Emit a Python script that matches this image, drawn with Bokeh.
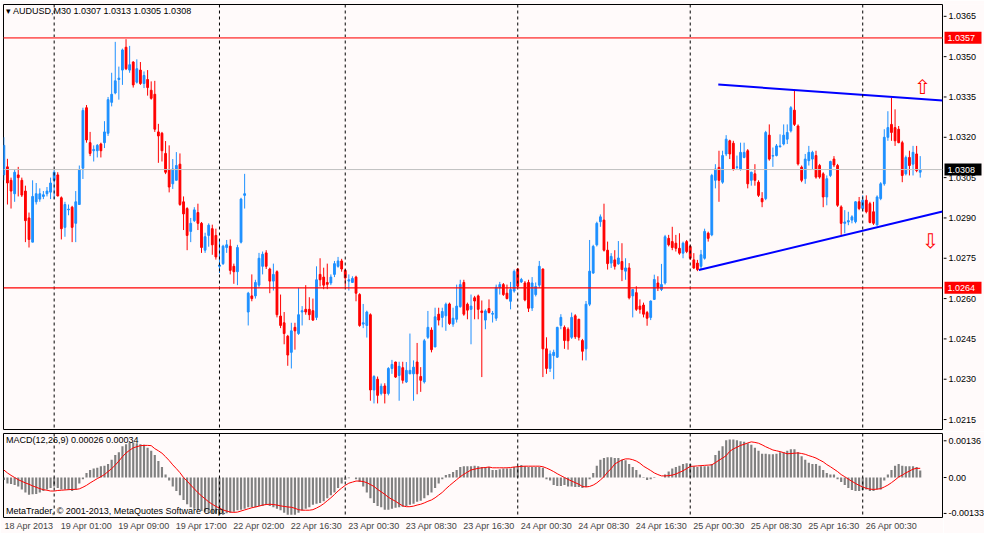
import numpy as np
from bokeh.plotting import figure
from bokeh.layouts import column, row
from bokeh.models import Range1d, FixedTicker, Span, Label
from bokeh.core.properties import value
from bokeh.embed import file_html
from bokeh.resources import INLINE

# ---------------- data (AUDUSD, M30) ----------------
open_ = [
 1.0306, 1.0309, 1.0304, 1.0299, 1.0306, 1.0304, 1.0300, 1.0290, 1.0281, 1.0296,
 1.0297, 1.0298, 1.0299, 1.02996, 1.0304, 1.0306, 1.02975, 1.02865, 1.0293, 1.0294,
 1.0288, 1.0295, 1.03085, 1.0331, 1.0318, 1.0315, 1.0315, 1.03175, 1.0318, 1.03215,
 1.0333, 1.03365, 1.03415, 1.0345, 1.03535, 1.0345, 1.0348, 1.03405, 1.0345, 1.0340,
 1.03415, 1.03375, 1.0336, 1.0322, 1.03215, 1.0314, 1.0308, 1.03027, 1.0304, 1.0310,
 1.0296, 1.02935, 1.0285, 1.0289, 1.0292, 1.0288, 1.0278, 1.02835, 1.0286, 1.02835,
 1.0272, 1.0273, 1.0279, 1.02795, 1.0272, 1.0270, 1.0281, 1.02984, 1.0255, 1.0261,
 1.0261, 1.0265, 1.0272, 1.0277, 1.0271, 1.02665, 1.0270, 1.02535, 1.0251, 1.0246,
 1.0240, 1.02493, 1.0247, 1.0255, 1.0256, 1.0256, 1.02555, 1.0253, 1.0269, 1.0268,
 1.0266, 1.02658, 1.0269, 1.0272, 1.0274, 1.02705, 1.02665, 1.0266, 1.0268, 1.02615,
 1.02505, 1.0250, 1.0254, 1.0226, 1.0230, 1.02247, 1.02275, 1.02247, 1.0234, 1.02364,
 1.02314, 1.02343, 1.0229, 1.0232, 1.0232, 1.02364, 1.0231, 1.0229, 1.02456, 1.02483,
 1.0242, 1.02542, 1.0253, 1.02536, 1.0258, 1.02505, 1.02523, 1.0257, 1.0266, 1.02579,
 1.0256, 1.02603, 1.0261, 1.02554, 1.0252, 1.02563, 1.02542, 1.02527, 1.0264, 1.02652,
 1.0262, 1.0259, 1.02628, 1.0271, 1.02662, 1.02658, 1.0266, 1.02565, 1.02615, 1.0265,
 1.0271, 1.02413, 1.0234, 1.02388, 1.02382, 1.0250, 1.02493, 1.02486, 1.02456, 1.02536,
 1.02523, 1.02444, 1.02413, 1.02579, 1.02695, 1.0280, 1.02886, 1.02892, 1.0278, 1.02732,
 1.02744, 1.02729, 1.02738, 1.02702, 1.02714, 1.0261, 1.02622, 1.02572, 1.02576, 1.02548,
 1.0253, 1.02597, 1.02658, 1.02634, 1.02658, 1.02824, 1.02812, 1.02806, 1.02787, 1.02769,
 1.02812, 1.02794, 1.02744, 1.02732, 1.0272, 1.0275, 1.02843, 1.02837, 1.0304, 1.03088,
 1.03033, 1.03138, 1.03187, 1.03178, 1.03088, 1.03082, 1.03125, 1.0315, 1.0304, 1.03064,
 1.03033, 1.02972, 1.02972, 1.03208, 1.0313, 1.03132, 1.03165, 1.03175, 1.03193, 1.03224,
 1.03301, 1.03242, 1.03089, 1.03046, 1.03113, 1.03119, 1.03132, 1.03095, 1.03064, 1.02978,
 1.03058, 1.03119, 1.03095, 1.02941, 1.0288, 1.02885, 1.02892, 1.02886, 1.0296, 1.02935,
 1.02966, 1.02953, 1.02923, 1.02874, 1.02972, 1.03027, 1.0320, 1.03248, 1.03236, 1.0323,
 1.0318, 1.03064, 1.03125, 1.0310, 1.03138, 1.0307]

high = [
 1.0320, 1.0312, 1.0305, 1.0308, 1.0309, 1.0305, 1.0302, 1.0292, 1.0304, 1.0303,
 1.0301, 1.0300, 1.03015, 1.0305, 1.0308, 1.0307, 1.0298, 1.0296, 1.0295, 1.02945,
 1.0300, 1.03095, 1.0331, 1.0332, 1.0322, 1.0317, 1.03175, 1.0318, 1.0326, 1.0335,
 1.0344, 1.03555, 1.03463, 1.0353, 1.03565, 1.0354, 1.03483, 1.0349, 1.0348, 1.03445,
 1.0345, 1.03408, 1.0341, 1.0325, 1.0322, 1.03186, 1.0317, 1.03119, 1.03145, 1.0314,
 1.0298, 1.0294, 1.0290, 1.0294, 1.02953, 1.02885, 1.02845, 1.0288, 1.02875, 1.0286,
 1.0282, 1.0280, 1.02818, 1.0282, 1.0273, 1.0280, 1.02975, 1.03064, 1.02625, 1.0269,
 1.0267, 1.0277, 1.02775, 1.0278, 1.02715, 1.0273, 1.02705, 1.02615, 1.0255, 1.02465,
 1.0251, 1.0251, 1.0264, 1.02572, 1.0265, 1.02605, 1.0260, 1.0272, 1.0275, 1.02715,
 1.0273, 1.0269, 1.0274, 1.02755, 1.02748, 1.0271, 1.0269, 1.02683, 1.02685, 1.0262,
 1.0258, 1.02555, 1.02545, 1.02315, 1.0231, 1.02284, 1.02285, 1.02345, 1.02372, 1.02365,
 1.02365, 1.02365, 1.02364, 1.0247, 1.0237, 1.02435, 1.02345, 1.0245, 1.02554, 1.02493,
 1.02566, 1.02566, 1.02566, 1.02585, 1.02585, 1.02566, 1.02652, 1.0267, 1.0267, 1.02585,
 1.02615, 1.0261, 1.02615, 1.02593, 1.0256, 1.02597, 1.02554, 1.02652, 1.02662, 1.02658,
 1.02652, 1.02662, 1.02708, 1.02714, 1.02677, 1.02665, 1.0267, 1.0268, 1.0266, 1.0274,
 1.02712, 1.02456, 1.02407, 1.0241, 1.02495, 1.02542, 1.0250, 1.02493, 1.02548, 1.02542,
 1.02525, 1.0245, 1.02591, 1.02818, 1.0280, 1.02886, 1.02913, 1.02953, 1.02812, 1.02769,
 1.0278, 1.02814, 1.02806, 1.0275, 1.02732, 1.02635, 1.02646, 1.02597, 1.02585, 1.02554,
 1.02593, 1.02689, 1.02683, 1.02729, 1.02837, 1.02837, 1.02867, 1.02837, 1.02843, 1.02812,
 1.02818, 1.0280, 1.02769, 1.02744, 1.02781, 1.0286, 1.02849, 1.03064, 1.0310, 1.0315,
 1.0315, 1.03208, 1.03191, 1.03187, 1.03132, 1.0318, 1.0318, 1.03156, 1.03072, 1.0310,
 1.0304, 1.02996, 1.03224, 1.03248, 1.03162, 1.03175, 1.03211, 1.03248, 1.03248, 1.03316,
 1.03377, 1.03248, 1.03095, 1.03138, 1.03168, 1.0315, 1.0315, 1.03101, 1.0307, 1.03058,
 1.03113, 1.0313, 1.03101, 1.02947, 1.02929, 1.02923, 1.0291, 1.02962, 1.02978, 1.02984,
 1.02984, 1.0296, 1.0296, 1.02984, 1.03033, 1.0323, 1.03297, 1.03347, 1.03304, 1.03242,
 1.03187, 1.03132, 1.0315, 1.03168, 1.03168, 1.0313]

low = [
 1.0304, 1.0295, 1.02935, 1.0296, 1.0298, 1.02978, 1.0281, 1.0279, 1.0281, 1.0295,
 1.0296, 1.0297, 1.0298, 1.0297, 1.0297, 1.0298, 1.0282, 1.0283, 1.0291, 1.0281,
 1.0281, 1.0295, 1.03045, 1.0318, 1.0313, 1.0311, 1.03125, 1.03125, 1.0316, 1.03205,
 1.03315, 1.0336, 1.0334, 1.03395, 1.0345, 1.0344, 1.03385, 1.0340, 1.03395, 1.03383,
 1.03355, 1.0334, 1.0322, 1.03105, 1.0311, 1.03063, 1.02995, 1.03008, 1.0304, 1.02945,
 1.02855, 1.0278, 1.0281, 1.02885, 1.02855, 1.0277, 1.0277, 1.02793, 1.02763, 1.02745,
 1.02695, 1.02725, 1.0277, 1.0269, 1.02655, 1.0265, 1.02805, 1.02935, 1.0250, 1.0259,
 1.0260, 1.0264, 1.0269, 1.0271, 1.0262, 1.0263, 1.0253, 1.0249, 1.0243, 1.0235,
 1.0234, 1.0241, 1.02465, 1.0250, 1.0254, 1.0252, 1.02517, 1.0252, 1.02645, 1.02635,
 1.02635, 1.0265, 1.0268, 1.02715, 1.0270, 1.02645, 1.0263, 1.02658, 1.0259, 1.02495,
 1.0249, 1.02455, 1.0222, 1.0221, 1.0221, 1.0224, 1.0221, 1.0224, 1.0232, 1.02305,
 1.0222, 1.02284, 1.02286, 1.0232, 1.0222, 1.02244, 1.02253, 1.02284, 1.0245, 1.0240,
 1.0242, 1.0250, 1.02493, 1.0248, 1.02502, 1.02495, 1.02511, 1.02566, 1.02536, 1.02523,
 1.0243, 1.02523, 1.02523, 1.02308, 1.02486, 1.02545, 1.02511, 1.02517, 1.02615, 1.0261,
 1.02597, 1.0256, 1.02622, 1.0264, 1.02658, 1.0259, 1.0255, 1.02554, 1.02608, 1.0264,
 1.02308, 1.0232, 1.02327, 1.0230, 1.0238, 1.02486, 1.02413, 1.0241, 1.0245, 1.0245,
 1.02444, 1.0237, 1.0237, 1.02572, 1.02692, 1.02794, 1.02867, 1.02775, 1.02708, 1.02714,
 1.02708, 1.02726, 1.02665, 1.0267, 1.02597, 1.0253, 1.02554, 1.02544, 1.0253, 1.02499,
 1.0252, 1.02595, 1.02628, 1.02628, 1.02652, 1.02794, 1.0278, 1.02775, 1.02763, 1.0275,
 1.02769, 1.02744, 1.0271, 1.02702, 1.02708, 1.02745, 1.02812, 1.02832, 1.0301, 1.0296,
 1.03027, 1.0313, 1.03119, 1.03076, 1.03082, 1.03076, 1.03122, 1.0301, 1.0302, 1.0302,
 1.02978, 1.0294, 1.02966, 1.03113, 1.0309, 1.03129, 1.03162, 1.0317, 1.03175, 1.03218,
 1.03242, 1.03095, 1.03033, 1.03027, 1.03095, 1.03082, 1.03046, 1.03046, 1.0294, 1.02947,
 1.03052, 1.03089, 1.02941, 1.02837, 1.02843, 1.02873, 1.0288, 1.0288, 1.02929, 1.02925,
 1.02917, 1.0288, 1.02874, 1.02871, 1.02966, 1.0302, 1.03187, 1.03187, 1.03168, 1.03178,
 1.03033, 1.03058, 1.03058, 1.03058, 1.0307, 1.0305]

close = [
 1.0317, 1.0303, 1.0300, 1.0307, 1.0305, 1.02985, 1.0289, 1.0282, 1.0298, 1.0299,
 1.0299, 1.02986, 1.0300, 1.0303, 1.0307, 1.02982, 1.0286, 1.0295, 1.02933, 1.02865,
 1.0296, 1.0308, 1.0330, 1.0319, 1.0314, 1.03155, 1.0317, 1.0315, 1.0322, 1.0334,
 1.0336, 1.0341, 1.0342, 1.03525, 1.03455, 1.0347, 1.03395, 1.03455, 1.0340, 1.0343,
 1.03385, 1.03345, 1.0323, 1.03205, 1.0315, 1.0307, 1.03015, 1.03082, 1.03095, 1.0295,
 1.02915, 1.02835, 1.0288, 1.0293, 1.0288, 1.0279, 1.0283, 1.02873, 1.0280, 1.02755,
 1.02725, 1.02795, 1.0280, 1.02705, 1.0270, 1.0279, 1.0297, 1.0299, 1.0262, 1.0260,
 1.0266, 1.0275, 1.02765, 1.0272, 1.02665, 1.0269, 1.0254, 1.0250, 1.0247, 1.0239,
 1.0248, 1.0248, 1.0254, 1.02555, 1.0255, 1.0254, 1.0252, 1.0267, 1.0267, 1.0265,
 1.02653, 1.0268, 1.0273, 1.0274, 1.0271, 1.02677, 1.0267, 1.02675, 1.0262, 1.0250,
 1.0251, 1.0255, 1.0226, 1.0231, 1.0224, 1.02274, 1.02247, 1.0234, 1.02355, 1.02308,
 1.02348, 1.02296, 1.02333, 1.02333, 1.02345, 1.0232, 1.02296, 1.02443, 1.02493, 1.0241,
 1.02532, 1.0252, 1.02552, 1.02579, 1.02507, 1.02527, 1.02572, 1.02652, 1.02542, 1.02557,
 1.02572, 1.02591, 1.0256, 1.02548, 1.02554, 1.02548, 1.02545, 1.02642, 1.02652, 1.02615,
 1.0260, 1.02634, 1.02701, 1.02646, 1.02671, 1.02595, 1.02564, 1.02658, 1.02645, 1.0272,
 1.02413, 1.0234, 1.02394, 1.0240, 1.02493, 1.0253, 1.02444, 1.02443, 1.0253, 1.02458,
 1.02456, 1.02404, 1.02579, 1.02702, 1.02794, 1.0288, 1.02904, 1.0278, 1.0273, 1.02757,
 1.0272, 1.02751, 1.02708, 1.02714, 1.02603, 1.02634, 1.0256, 1.0256, 1.02542, 1.02527,
 1.02591, 1.02671, 1.0264, 1.02652, 1.0283, 1.0280, 1.0279, 1.02787, 1.02769, 1.02806,
 1.02775, 1.0275, 1.02714, 1.02708, 1.02763, 1.0285, 1.02824, 1.03058, 1.03082, 1.0304,
 1.03132, 1.03193, 1.03138, 1.03082, 1.0309, 1.03144, 1.03144, 1.03027, 1.0307, 1.0304,
 1.02984, 1.0296, 1.03218, 1.03119, 1.03132, 1.03168, 1.03168, 1.03208, 1.03218, 1.0331,
 1.03248, 1.03101, 1.0304, 1.03119, 1.03144, 1.03144, 1.03052, 1.03052, 1.02978, 1.03046,
 1.0311, 1.03097, 1.02947, 1.0288, 1.02885, 1.0289, 1.02904, 1.0296, 1.02935, 1.02966,
 1.02923, 1.02883, 1.0288, 1.02978, 1.03027, 1.0320, 1.03236, 1.03218, 1.03187, 1.0318,
 1.03058, 1.03125, 1.03095, 1.03144, 1.03076, 1.0308]

# MACD(12,26,9) main (histogram) and signal, in units of 0.00001
macd_main = [
 -9, -22, -24, -28, -33, -44, -55, -64, -62, -61,
 -55, -50, -44, -39, -33, -39, -44, -44, -46, -50,
 -44, -22, -6, 17, 28, 33, 36, 42, 44, 50,
 66, 83, 94, 116, 123, 130, 130, 127, 123, 121,
 110, 99, 83, 61, 39, 11, -11, -33, -50, -66,
 -83, -99, -110, -116, -121, -124, -127, -130, -132, -134,
 -138, -138, -132, -130, -127, -121, -119, -116, -110, -110,
 -110, -105, -105, -101, -105, -110, -116, -121, -130, -138,
 -138, -138, -130, -121, -116, -110, -101, -97, -94, -88,
 -77, -66, -55, -39, -22, -9, -3, 0, -6, -17,
 -33, -55, -77, -94, -105, -110, -119, -119, -116, -112,
 -110, -108, -105, -101, -97, -90, -86, -77, -66, -55,
 -39, -22, -6, 9, 13, 20, 28, 39, 42, 42,
 42, 44, 42, 39, 39, 39,
 28, 28, 31, 33, 33, 33, 39, 42, 46, 42,
 39, 39, 39, 39, 36, -6, -11, -28, -31, -31,
 -28, -33, -33, -35, -35, -39, -35, -6, 17, 44,
 66, 72, 75, 75, 72, 72, 66, 64, 50, 39,
 28, 11, -2, -9, -6, -2, 0, 0, 11, 22,
 33, 39, 44, 50, 53, 50, 42, 39, 42, 42,
 42, 50, 83, 99, 116, 138, 141, 141, 138, 134,
 132, 127, 121, 110, 99, 88, 88, 86, 86, 88,
 94, 94, 99, 105, 105, 94, 79, 66, 55, 50,
 50, 44, 28, 17, 11, 11, -6, -17, -28, -39,
 -46, -50, -50, -46, -44, -50, -50, -44, -44, -11,
 11, 28, 44, 50, 44, 42, 42, 42, 39, 26]

macd_signal = [
 28, 17, 8, 0, -8, -14, -20, -25, -31, -36,
 -41, -45, -47, -50, -50, -48, -47, -46, -45, -44,
 -44, -42, -36, -29, -20, -12, -4, 3, 11, 22,
 33, 46, 61, 77, 91, 101, 110, 114, 118, 119,
 119, 118, 107, 99, 90, 77, 63, 47, 33, 18,
 0, -13, -28, -42, -56, -68, -79, -90, -99, -107,
 -113, -120, -124, -128, -129, -128, -124, -120, -116, -112,
 -109, -106, -102, -100, -99, -100, -102, -105, -107, -109,
 -110, -114, -119, -121, -121, -121, -119, -113, -106, -97,
 -86, -75, -63, -50, -39, -29, -21, -17, -13, -13,
 -15, -19, -26, -33, -44, -53, -62, -73, -81, -88,
 -97, -105, -108, -108, -106, -102, -99, -94, -88, -83,
 -75, -65, -55, -42, -30, -19, -8, 3, 12, 20,
 28, 31, 34, 36, 37, 39,
 36, 36, 36, 36, 36, 37, 39, 40, 41, 42,
 42, 42, 42, 42, 40, 35, 29, 22, 14, 7,
 0, -7, -13, -19, -25, -33, -35, -33, -28, -20,
 -9, 3, 20, 33, 50, 58, 65, 69, 69, 66,
 61, 53, 42, 34, 26, 17, 11, 6, 6, 7,
 9, 13, 19, 25, 33, 41, 42, 43, 44, 45,
 46, 47, 55, 64, 72, 81, 97, 106, 112, 119,
 123, 128, 132, 130, 127, 121, 114, 108, 102, 99,
 96, 92, 88, 89, 90, 91, 89, 86, 81, 77,
 72, 65, 58, 48, 40, 31, 22, 11, 3, -6,
 -14, -22, -29, -35, -40, -43, -44, -43, -41, -35,
 -28, -19, -9, 2, 9, 17, 24, 31, 34, 34]

# axis ticks / labels
price_ticks = [1.0215, 1.0230, 1.0245, 1.0260, 1.0275, 1.0290, 1.0305, 1.0320, 1.0335, 1.0350, 1.0365]
price_tick_labels = ["1.0215", "1.0230", "1.0245", "1.0260", "1.0275", "1.0290",
                     "1.0305", "1.0320", "1.0335", "1.0350", "1.0365"]
macd_ticks = [136, 0, -133]
macd_tick_labels = ["0.00136", "0.00", "-0.00133"]
time_tick_idx = [0, 16, 32, 48, 64, 80, 96, 112, 128, 144, 160, 176, 192, 208, 224, 240]
time_tick_labels = ["18 Apr 2013", "19 Apr 01:00", "19 Apr 09:00", "19 Apr 17:00",
                    "22 Apr 02:00", "22 Apr 16:30", "23 Apr 00:30", "23 Apr 08:30",
                    "23 Apr 16:30", "24 Apr 00:30", "24 Apr 08:30", "24 Apr 16:30",
                    "25 Apr 00:30", "25 Apr 08:30", "25 Apr 16:30", "26 Apr 00:30"]
day_separator_idx = [14, 60, 95, 143, 191, 239]

# chart objects
hline_levels = [1.0357, 1.0264, 1.0308]
tag_levels = [1.0357, 1.0264, 1.0308]
tag_labels = ["1.0357", "1.0264", "1.0308"]
tag_colors = ["#FF0000", "#FF0000", "#000000"]
trend_up_x = [198.8, 261.2]
trend_up_y = [1.03396, 1.03337]
trend_dn_x = [193.4, 261.2]
trend_dn_y = [1.02706, 1.02924]
arrow_x = [255.6, 257.8]
arrow_y = [1.03388, 1.02813]
arrow_text = ["\u21e7", "\u21e9"]

assert len(open_) == len(high) == len(low) == len(close) == len(macd_main) == len(macd_signal) == 256

# ---------------- styling ----------------
FONT = "Liberation Sans"
FS = "9px"
BG = "#FFFAFA"
BULL = "#1E90FF"
BEAR = "#FF0000"
W = 984
RB = 41          # width of the right-hand scale strip
H1, H2 = 431, 102

idx = np.arange(len(close))
o = np.array(open_); c = np.array(close)
colors = [BULL if cc >= oo else BEAR for oo, cc in zip(open_, close)]
top = np.maximum(o, c)
bot = np.minimum(o, c)

xr = Range1d(-0.1, 261.2)
yr1 = Range1d(1.02113, 1.03694)
yr2 = Range1d(-148, 163)


def base_fig(width, height, x_range, y_range, **kw):
    f = figure(width=width, height=height, output_backend="svg", toolbar_location=None,
               x_range=x_range, y_range=y_range,
               background_fill_color=BG, border_fill_color=BG, **kw)
    f.grid.visible = False
    return f


def scale_strip(height, y_range, ticks, labels, top_b, bottom_b, below_axis=False):
    s = base_fig(RB, height, Range1d(0, RB), y_range,
                 x_axis_location="below" if below_axis else None, y_axis_location=None,
                 min_border_left=0, min_border_right=0,
                 min_border_top=top_b, min_border_bottom=bottom_b)
    s.outline_line_color = None
    s.segment(x0=0, x1=3, y0=ticks, y1=ticks, line_color="black", line_width=1)
    s.text(x=5, y=ticks, text=labels, text_font=value(FONT), text_font_size=FS,
           text_color="black", text_baseline="middle", text_align="left")
    if below_axis:
        a = s.xaxis[0]
        a.ticker = FixedTicker(ticks=[10])
        a.major_label_overrides = {10: "0"}
        a.major_label_text_font = FONT
        a.major_label_text_font_size = FS
        a.major_label_text_alpha = 0
        a.major_tick_line_color = None
        a.major_tick_out = 0
        a.minor_tick_line_color = None
        a.axis_line_color = None
        a.major_label_standoff = 3
    return s


# ---------------- price panel ----------------
p1 = base_fig(W - RB, H1, xr, yr1, x_axis_location=None, y_axis_location=None,
              min_border_left=3, min_border_right=1, min_border_top=4, min_border_bottom=2)
p1.outline_line_color = "black"
p1.outline_line_width = 1

for s in day_separator_idx:
    p1.add_layout(Span(location=s, dimension="height", line_color="black",
                       line_dash="3 3", line_width=1))

p1.add_layout(Span(location=hline_levels[0], dimension="width", line_color="#FF6464", line_width=1.6))
p1.add_layout(Span(location=hline_levels[1], dimension="width", line_color="#FF0000", line_width=1.2))
p1.add_layout(Span(location=hline_levels[2], dimension="width", line_color="#C0C0C0", line_width=1))

p1.segment(x0=idx, y0=low, x1=idx, y1=high, line_color=colors, line_width=1)
p1.vbar(x=idx, width=0.5, top=top, bottom=bot, fill_color=colors, line_color=colors, line_width=1)

p1.line(trend_up_x, trend_up_y, line_color="#0000FF", line_width=2)
p1.line(trend_dn_x, trend_dn_y, line_color="#0000FF", line_width=2)
p1.text(x=arrow_x, y=arrow_y, text=arrow_text, text_color="#FF0000",
        text_font=value("DejaVu Sans"), text_font_size="20px", text_align="center",
        text_baseline="middle")

p1.add_layout(Label(x=0.6, y=1.03688, text="\u25be AUDUSD,M30  1.0307 1.0313 1.0305 1.0308",
                    text_font=FONT, text_font_size=FS, text_color="black", text_baseline="top"))

p1r = scale_strip(H1, yr1, price_ticks, price_tick_labels, 4, 2)
p1r.rect(x=19.5, y=tag_levels, width=37, height=12, height_units="screen",
         fill_color=tag_colors, line_color=None)
p1r.text(x=4, y=tag_levels, text=tag_labels, text_font=value(FONT), text_font_size=FS,
         text_color="white", text_baseline="middle", text_align="left")

# ---------------- MACD panel ----------------
p2 = base_fig(W - RB, H2, xr, yr2, y_axis_location=None,
              min_border_left=3, min_border_right=1, min_border_top=2, min_border_bottom=0)
p2.outline_line_color = "black"

xa = p2.xaxis[0]
LABEL_SHIFT = 7
xa.ticker = FixedTicker(ticks=[t + LABEL_SHIFT for t in time_tick_idx])
xa.major_label_overrides = {t + LABEL_SHIFT: l for t, l in zip(time_tick_idx, time_tick_labels)}
xa.major_label_text_font = FONT
xa.major_label_text_font_size = FS
xa.major_tick_line_color = None
xa.major_tick_out = 0
xa.minor_tick_line_color = None
xa.axis_line_color = None
xa.major_label_standoff = 3

for s in day_separator_idx:
    p2.add_layout(Span(location=s, dimension="height", line_color="black",
                       line_dash="3 3", line_width=1))

p2.vbar(x=idx, width=0.6, top=macd_main, bottom=0, fill_color="#808080", line_color=None)
p2.line(idx, macd_signal, line_color="#FF0000", line_width=1)

p2.add_layout(Label(x=0.6, y=158, text="MACD(12,26,9) 0.00026 0.00034", text_font=FONT,
                    text_font_size=FS, text_color="black", text_baseline="top"))
p2.add_layout(Label(x=0.6, y=-144, text="MetaTrader, \u00a9 2001-2013, MetaQuotes Software Corp.",
                    text_font=FONT, text_font_size=FS, text_color="black", text_baseline="bottom"))

p2r = scale_strip(H2, yr2, macd_ticks, macd_tick_labels, 2, 0, below_axis=True)

layout = column(row(p1, p1r, spacing=0), row(p2, p2r, spacing=0), spacing=0)
open("out.html", "w").write(file_html(layout, INLINE))
